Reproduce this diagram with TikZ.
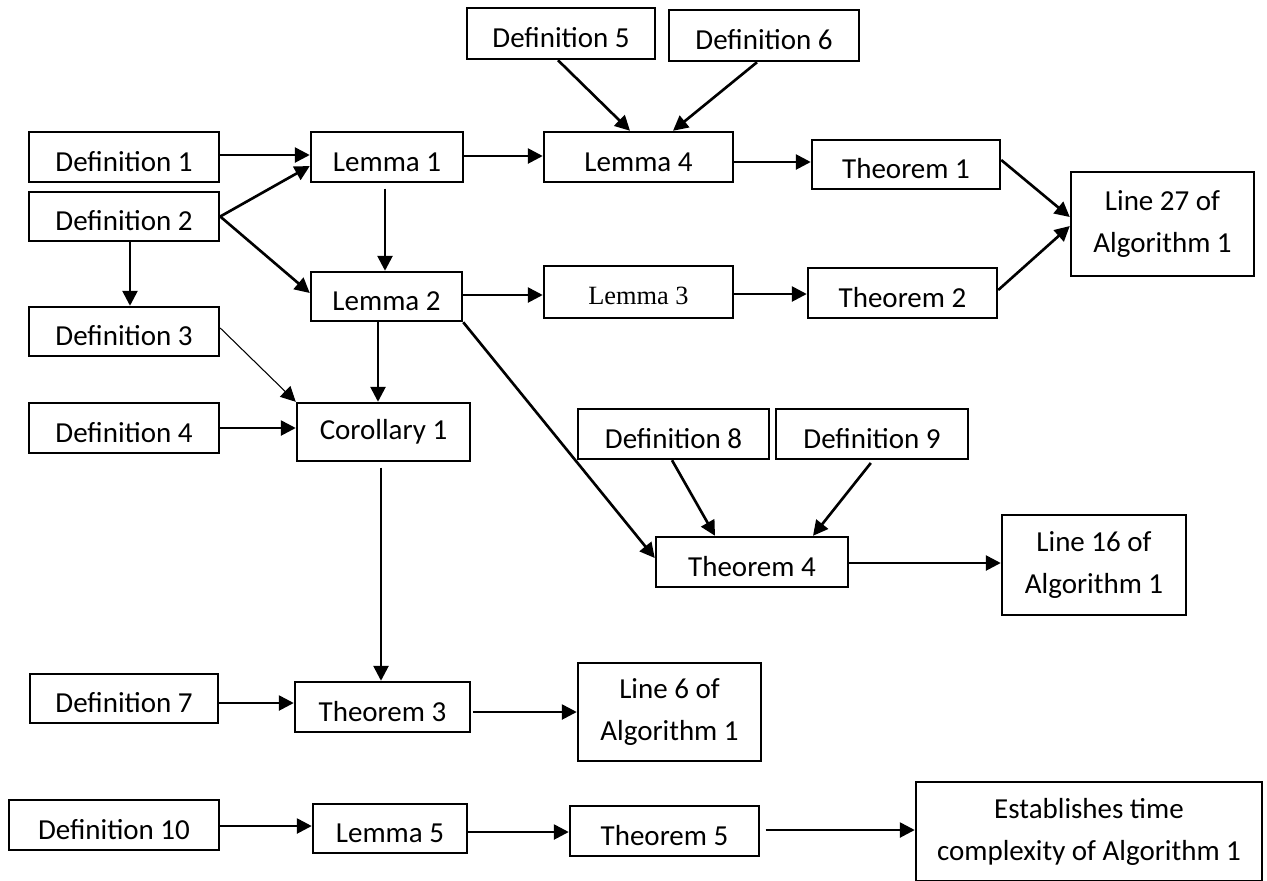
\documentclass[tikz,border=0pt]{standalone}
\usepackage{fontspec}
\setmainfont{Carlito}
\newfontfamily\serifalt{Liberation Serif}
\usetikzlibrary{arrows.meta}
\newcommand\bx[7][]{\node[box,#1,minimum width={(#5-#3)*0.02cm},
  minimum height={(#6-#4)*0.02cm}] (#2) at ({(#3+#5)/2},{(#4+#6)/2}) {#7};}
\begin{document}
\begin{tikzpicture}[x=0.02cm,y=-0.02cm,
  box/.style={draw, line width=1.4pt, inner sep=0pt, align=center,
    font=\fontsize{16.5}{24}\selectfont, text height=16pt, text depth=0pt},
  natural/.style={text height=, text depth=},
  arr/.style={line width=1.5pt, -{Triangle[length=8.5pt,width=8.5pt]}},
  thinarr/.style={line width=0.6pt, -{Triangle[length=8.5pt,width=8.5pt]}}]
\useasboundingbox (0,0) rectangle (1267,880);
% nodes
\bx{d1}{29}{132}{219}{182}{Definition 1}
\bx{d2}{29}{192}{219}{241}{Definition 2}
\bx{d3}{29}{307}{219}{356}{Definition 3}
\bx{d4}{29}{403}{219}{453}{Definition 4}
\bx{d5}{467}{8}{655}{59}{Definition 5}
\bx{d6}{669}{10}{859}{61}{Definition 6}
\bx{d7}{30}{674}{218}{723}{Definition 7}
\bx{d8}{578}{409}{769}{459}{Definition 8}
\bx{d9}{776}{409}{968}{459}{Definition 9}
\bx{d10}{9}{800}{219}{850}{Definition 10}
\bx{l1}{311}{132}{463}{182}{Lemma 1}
\bx{l2}{311}{272}{462}{321}{Lemma 2}
\bx[font=\serifalt\fontsize{15}{20}\selectfont, text height=14pt]{l3}{544}{266}{733}{318}{Lemma 3}
\bx{l4}{544}{132}{733}{182}{Lemma 4}
\bx{l5}{313}{804}{467}{853}{Lemma 5}
\bx[natural]{c1}{297}{403}{470}{461}{Corollary 1}
\bx{t1}{812}{140}{1000}{189}{Theorem 1}
\bx{t2}{808}{268}{997}{318}{Theorem 2}
\bx{t3}{295}{682}{470}{732}{Theorem 3}
\bx{t4}{656}{537}{848}{587}{Theorem 4}
\bx{t5}{570}{806}{759}{856}{Theorem 5}
\bx[natural]{ln27}{1071}{172}{1254}{276}{Line 27 of\\Algorithm 1}
\bx[natural]{ln16}{1002}{515}{1186}{615}{Line 16 of\\Algorithm 1}
\bx[natural]{ln6}{578}{663}{761}{761}{Line 6 of\\Algorithm 1}
\bx[natural]{est}{916}{782}{1262}{881}{Establishes time\\complexity of Algorithm 1}
% connectors
\draw[arr] (d1.east |- 0,155) -- (l1.west |- 0,155);
\draw[arr] (d2.east) -- (l1.west |- 0,166);
\draw[arr] (d2.east) -- (l2.west |- 0,293);
\draw[arr] (d2.south -| 130,0) -- (d3.north -| 130,0);
\draw[arr, shorten <=3pt] (l1.south -| 385,0) -- (l2.north -| 385,0);
\draw[arr] (l1.east |- 0,156) -- (l4.west |- 0,156);
\draw[arr] (l2.east |- 0,295) -- (l3.west |- 0,295);
\draw[arr] (l3.east |- 0,294) -- (t2.west |- 0,294);
\draw[arr] (l2.south -| 378,0) -- (c1.north -| 378,0);
\draw[thinarr] (d3.east |- 0,328) -- (c1.north west);
\draw[arr] (d4.east |- 0,428) -- (c1.west |- 0,428);
\draw[arr, shorten <=3pt] (c1.south -| 381,0) -- (t3.north -| 381,0);
\draw[arr] (d7.east |- 0,703) -- (t3.west |- 0,703);
\draw[arr, shorten <=1pt] (t3.east |- 0,712) -- (ln6.west |- 0,712);
\draw[arr] (d10.east |- 0,826) -- (l5.west |- 0,826);
\draw[arr] (l5.east |- 0,832) -- (t5.west |- 0,832);
\draw[arr, shorten <=3pt] (t5.east |- 0,830) -- (est.west |- 0,830);
\draw[arr] (l2.south east) -- (t4.west |- 0,558);
\draw[arr] (d8.south -| 672,0) -- (t4.north -| 715,0);
\draw[arr, shorten <=2pt] (d9.south -| 873,0) -- (t4.north -| 813,0);
\draw[arr] (t4.east |- 0,563) -- (ln16.west |- 0,563);
\draw[arr] (d5.south -| 558,0) -- (l4.north -| 630,0);
\draw[arr] (d6.south -| 757,0) -- (l4.north -| 673,0);
\draw[arr] (l4.east |- 0,162) -- (t1.west |- 0,162);
\draw[arr] (t1.east |- 0,160) -- (ln27.west |- 0,217);
\draw[arr] (t2.east |- 0,290) -- (ln27.west |- 0,226);
\end{tikzpicture}
\end{document}
